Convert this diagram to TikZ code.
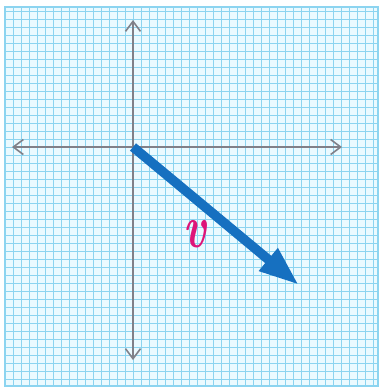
\documentclass[tikz,border=0pt]{standalone}
\usepackage{graphicx}
\usetikzlibrary{arrows.meta}
\definecolor{gridblue}{RGB}{140,212,240}
\definecolor{gridbg}{RGB}{235,250,255}
\definecolor{axisgray}{RGB}{128,128,136}
\definecolor{vecblue}{RGB}{22,112,192}
\definecolor{vmagenta}{RGB}{222,20,120}
\tikzset{
  axis/.style={draw=axisgray, line width=1.6pt, -{Straight Barb[length=10pt,width=15pt,line width=1.6pt]}},
  vector/.style={draw=vecblue, line width=9.5pt, -{Triangle[length=40pt,width=27pt]}}
}
\begin{document}
\begin{tikzpicture}[x=1pt, y=-1pt]
  \useasboundingbox (0,0) rectangle (383,392);
  \fill[white] (0,0) rectangle (383,392);
  % graph paper
  \fill[gridbg] (5,7) rectangle (378,386);
  \foreach \i in {-16,...,30} {
    \draw[gridblue, line width=0.7pt] ({133+8*\i},7) -- ({133+8*\i},386);
  }
  \foreach \j in {-17,...,29} {
    \draw[gridblue, line width=0.7pt] (5,{147+8*\j}) -- (378,{147+8*\j});
  }
  \draw[gridblue, line width=2pt] (5,7) rectangle (378,386);
  % axes
  \coordinate (O) at (133,147);
  \coordinate (xl) at (12,147);
  \coordinate (xr) at (342,147);
  \coordinate (yt) at (133,20);
  \coordinate (yb) at (133,360);
  \draw[axis] (O) -- (xl);
  \draw[axis] (O) -- (xr);
  \draw[axis] (O) -- (yt);
  \draw[axis] (O) -- (yb);
  % vector v
  \coordinate (tip) at (299,285);
  \draw[vector] (O) -- (tip);
  \node[text=vmagenta, font=\fontsize{60}{60}\selectfont\bfseries\itshape, inner sep=0pt] (v) at (195,234) {\scalebox{0.72}[1]{v}};
\end{tikzpicture}
\end{document}
